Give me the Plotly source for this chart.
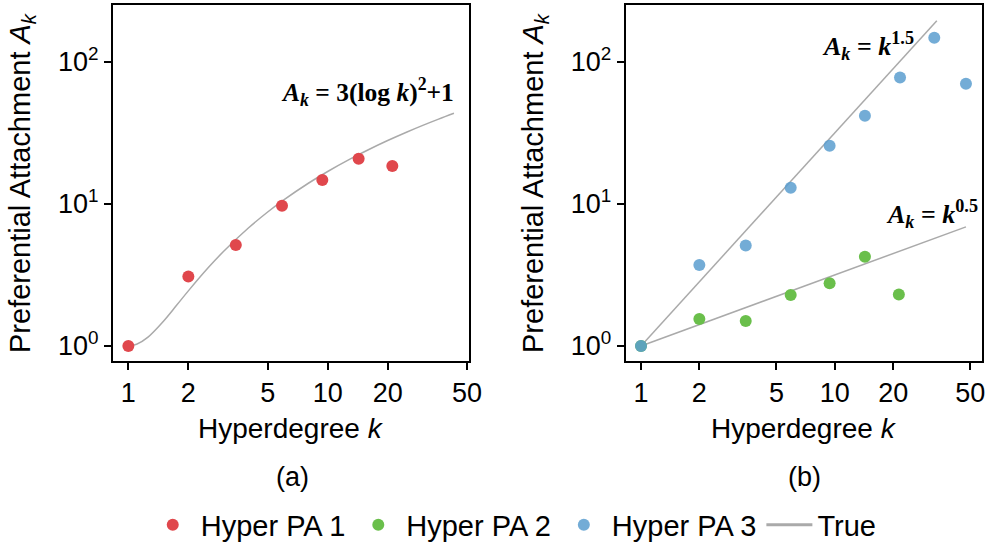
import plotly.graph_objects as go
from plotly.subplots import make_subplots

# ---------------- data ----------------
k_pa1 = [1, 2, 3.46, 5.9, 9.4, 14.3, 21.1]
a_pa1 = [1.0, 3.08, 5.14, 9.7, 14.7, 20.8, 18.5]

k_pa2 = [1, 2, 3.47, 5.92, 9.4, 14.3, 21.4]
a_pa2 = [1.0, 1.55, 1.50, 2.28, 2.76, 4.24, 2.30]

k_pa3 = [1, 2, 3.47, 5.92, 9.4, 14.3, 21.7, 32.6, 47.5]
a_pa3 = [1.0, 3.72, 5.09, 13.0, 25.7, 41.7, 77.6, 148.0, 70.0]

# true curve (a): A_k = 3(log k)^2 + 1
k_true_a = [1, 1.1, 1.25, 1.5, 1.75, 2, 2.5, 3, 4, 5, 6, 8, 10, 13, 16, 20, 25, 30, 36, 43]
a_true_a = [1.0, 1.027, 1.149, 1.493, 1.94, 2.441, 3.519, 4.621, 6.765, 8.771, 10.631,
            13.972, 16.906, 20.737, 24.062, 27.923, 32.084, 35.705, 39.525, 43.44]
# true lines (b): A_k = k^1.5 and A_k = k^0.5
k_true_15 = [1, 33.6]
a_true_15 = [1.0, 194.8]
k_true_05 = [1, 47.5]
a_true_05 = [1.0, 6.89]

x_ticks = [1, 2, 5, 10, 20, 50]
y_ticks = [1, 10, 100]
y_ticktext = ["10<sup>0</sup>", "10<sup>1</sup>", "10<sup>2</sup>"]

RED = "#E0474C"
GREEN = "#6ABF4B"
BLUE = "#5A9ECF"
GRAY = "#AAAAAA"

W, H = 987, 546
FONT = "Liberation Sans, Arial, sans-serif"

fig = make_subplots(rows=1, cols=2)

# panel (a)
fig.add_trace(go.Scatter(x=k_true_a, y=a_true_a, mode="lines", line=dict(color=GRAY, width=1.5, shape="spline"),
                         name="True", showlegend=False), row=1, col=1)
fig.add_trace(go.Scatter(x=k_pa1, y=a_pa1, mode="markers", marker=dict(color=RED, size=12),
                         name="Hyper PA 1", legendrank=1), row=1, col=1)

# panel (b)
fig.add_trace(go.Scatter(x=k_true_15, y=a_true_15, mode="lines", line=dict(color=GRAY, width=1.5),
                         name="True", showlegend=False), row=1, col=2)
fig.add_trace(go.Scatter(x=k_true_05, y=a_true_05, mode="lines", line=dict(color=GRAY, width=1.5),
                         name="True", showlegend=False), row=1, col=2)
fig.add_trace(go.Scatter(x=k_pa2, y=a_pa2, mode="markers", marker=dict(color=GREEN, size=12),
                         name="Hyper PA 2", legendrank=2), row=1, col=2)
fig.add_trace(go.Scatter(x=k_pa3, y=a_pa3, mode="markers", marker=dict(color=BLUE, size=12, opacity=0.85),
                         name="Hyper PA 3", legendrank=3), row=1, col=2)
# legend entry for the true curves (thicker swatch, as in the reference legend)
fig.add_trace(go.Scatter(x=[None], y=[None], mode="lines", line=dict(color=GRAY, width=3),
                         name="True", legendrank=4), row=1, col=2)

axis_common = dict(type="log", showgrid=False, zeroline=False, showline=True, mirror=True,
                   linecolor="black", linewidth=2, ticks="outside", ticklen=7, tickwidth=2,
                   tickcolor="black", tickfont=dict(family=FONT, size=27, color="black"))

fig.update_xaxes(**axis_common, tickvals=x_ticks, ticktext=[str(v) for v in x_ticks])
fig.update_yaxes(**axis_common, tickvals=y_ticks, ticktext=y_ticktext, range=[-0.106, 2.40])

fig.update_xaxes(domain=[113 / W, 469 / W], range=[-0.077, 1.709], row=1, col=1)
fig.update_xaxes(domain=[625.7 / W, 982.3 / W], range=[-0.079, 1.761], row=1, col=2)
fig.update_yaxes(domain=[1 - 361 / H, 1 - 5 / H], row=1, col=1)
fig.update_yaxes(domain=[1 - 361 / H, 1 - 5 / H], row=1, col=2)

ann = []
def txt(x, y, text, size=28, family=FONT, angle=0, **kw):
    ann.append(dict(x=x / W, y=1 - y / H, xref="paper", yref="paper", text=text, showarrow=False,
                    textangle=angle, font=dict(family=family, size=size, color="black"),
                    xanchor="center", yanchor="middle", **kw))

ytitle = "Preferential Attachment <i>A</i><sub><i>k</i></sub>"
txt(22, 183, ytitle, size=29, angle=-90)
txt(535, 183, ytitle, size=29, angle=-90)
txt(291, 428, "Hyperdegree <i>k</i>")
txt(804, 428, "Hyperdegree <i>k</i>")
txt(292, 477, "(a)", size=27)
txt(804, 477, "(b)", size=27)

SERIF = "Liberation Serif, Times New Roman, serif"
txt(367, 92, "<b><i>A</i><sub><i>k</i></sub> = 3(log <i>k</i>)<sup>2</sup>+1</b>", size=25.5, family=SERIF)
txt(868, 46, "<b><i>A</i><sub><i>k</i></sub> = <i>k</i><sup>1.5</sup></b>", size=26, family=SERIF)
txt(932, 214, "<b><i>A</i><sub><i>k</i></sub> = <i>k</i><sup>0.5</sup></b>", size=26, family=SERIF)

fig.update_layout(
    width=W, height=H, autosize=False,
    margin=dict(l=0, r=0, t=0, b=0, autoexpand=False),
    paper_bgcolor="white", plot_bgcolor="white",
    annotations=ann,
    showlegend=True,
    legend=dict(orientation="h", x=0.52, xanchor="center", y=1 - 525 / H, yanchor="middle",
                font=dict(family=FONT, size=29, color="black"), itemwidth=46,
                bgcolor="rgba(0,0,0,0)", traceorder="normal"),
    font=dict(family=FONT, color="black"),
)

# remove the browser's default 8px body margin so the figure sits at the page origin
fig.write_html("out.html", config={"displayModeBar": False},
               post_script="document.body.style.margin='0';")
